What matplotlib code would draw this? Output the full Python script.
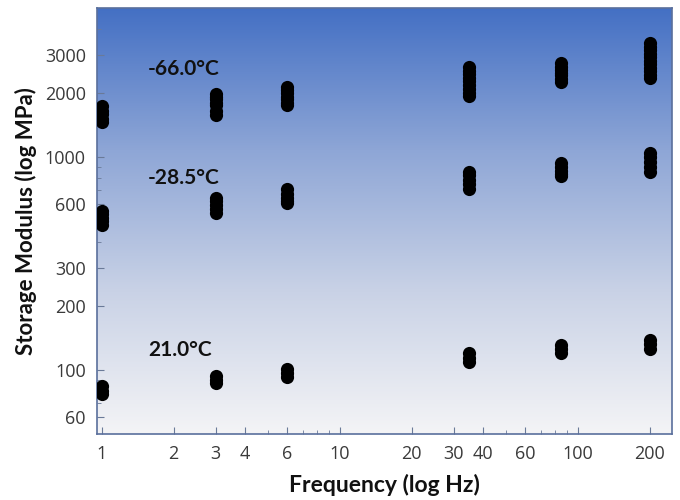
import numpy as np
import matplotlib
matplotlib.use("Agg")
import matplotlib.pyplot as plt
from matplotlib.colors import LinearSegmentedColormap
from matplotlib.ticker import FixedLocator, NullFormatter

# frecuencias de ensayo (Hz)
freqs = [1, 3, 6, 35, 85, 200]

# modulo de almacenamiento (MPa), varias repeticiones por frecuencia
mod_m66 = [
    [1726, 1650, 1582, 1510, 1452],
    [1966, 1910, 1863, 1800, 1745, 1650, 1568],
    [2118, 2050, 1986, 1920, 1863, 1800, 1745],
    [2633, 2540, 2441, 2350, 2263, 2170, 2076, 2000, 1923],
    [2748, 2650, 2546, 2480, 2414, 2320, 2239],
    [3415, 3290, 3166, 3050, 2934, 2820, 2720, 2620, 2521, 2430, 2337],
]
mod_m28 = [
    [560, 540, 519, 500, 481],
    [644, 620, 597, 570, 547],
    [703, 670, 640, 620, 608],
    [853, 818, 783, 745, 710],
    [931, 897, 863, 835, 809],
    [1038, 995, 951, 900, 853],
]
mod_21 = [
    [84, 80, 77],
    [94, 90, 87],
    [101, 97, 93],
    [120, 114, 109],
    [131, 125, 120],
    [138, 132, 126],
]

series = [("-66.0°C", mod_m66, 2577), ("-28.5°C", mod_m28, 800), ("21.0°C", mod_21, 124)]

xticks = [1, 2, 3, 4, 6, 10, 20, 30, 40, 60, 100, 200]
xminor = [5, 7, 8, 9, 50, 70, 80, 90]
yticks = [60, 100, 200, 300, 600, 1000, 2000, 3000]
yminor = [70, 80, 90, 400, 500, 700, 800, 900, 4000]

fig = plt.figure(figsize=(6.8, 5), dpi=100)
ax = fig.add_axes([0.1426, 0.132, 0.8455, 0.852])
ax.set_xscale("log")
ax.set_yscale("log")
ax.set_xlim(0.953, 248)
ax.set_ylim(50, 5000)

# fondo degradado azul -> gris claro
cmap = LinearSegmentedColormap.from_list("fondo", ["#f4f4f6", "#c9d2e6", "#8ea6d6", "#4470c4"])
grad = np.linspace(0, 1, 256).reshape(-1, 1)
ax.imshow(grad, cmap=cmap, aspect="auto", extent=[0, 1, 0, 1],
          transform=ax.transAxes, origin="lower", zorder=0)

for nombre, datos, ytxt in series:
    for f, vals in zip(freqs, datos):
        ax.scatter([f] * len(vals), vals, s=90, color="black", zorder=3, linewidths=0)
    ax.text(1.56, ytxt, nombre, fontsize=15, fontweight="bold", family="Lato",
            va="center", ha="left", color="#111111", zorder=4)

ax.xaxis.set_major_locator(FixedLocator(xticks))
ax.xaxis.set_minor_locator(FixedLocator(xminor))
ax.yaxis.set_major_locator(FixedLocator(yticks))
ax.yaxis.set_minor_locator(FixedLocator(yminor))
ax.set_xticklabels([str(t) for t in xticks])
ax.set_yticklabels([str(t) for t in yticks])
ax.xaxis.set_minor_formatter(NullFormatter())
ax.yaxis.set_minor_formatter(NullFormatter())

ax.tick_params(which="both", direction="in", colors="#6a7a98", labelcolor="#3a3a3a")
ax.tick_params(which="major", length=5, labelsize=13, pad=8)
ax.tick_params(which="minor", length=3)
for lab in ax.get_xticklabels() + ax.get_yticklabels():
    lab.set_family("Open Sans")

for sp in ax.spines.values():
    sp.set_color("#5a6f9c")
    sp.set_linewidth(1.2)

ax.set_xlabel("Frequency (log Hz)", fontsize=16.5, fontweight="bold", family="Lato",
              color="#111111", labelpad=8)
ax.set_ylabel("Storage Modulus (log MPa)", fontsize=16, fontweight="bold", family="Lato",
              color="#111111", labelpad=6)

fig.savefig("out.png", dpi=100)
